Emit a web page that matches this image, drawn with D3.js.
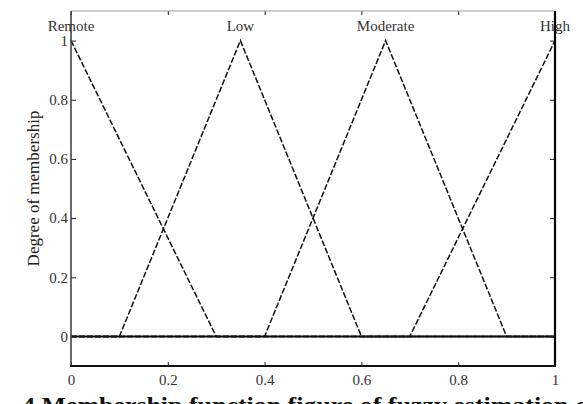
<!DOCTYPE html>
<html>
<head>
<meta charset="utf-8">
<script src="https://cdn.jsdelivr.net/npm/d3@7"></script>
<style>
  body { margin: 0; background: #fff; }
  svg { display: block; font-family: "Liberation Serif", "DejaVu Serif", serif; }
</style>
</head>
<body>
<div id="chart"></div>
<script>
// Data
const xTicks = [0, 0.2, 0.4, 0.6, 0.8, 1];
const yTicks = [0, 0.2, 0.4, 0.6, 0.8, 1];
const setNames = ["Remote", "Low", "Moderate", "High"];
const setPeaks = [0, 0.35, 0.65, 1];
const remoteX = [0, 0.3, 1];
const remoteY = [1, 0, 0];
const lowX = [0, 0.1, 0.35, 0.6, 1];
const lowY = [0, 0, 1, 0, 0];
const moderateX = [0, 0.4, 0.65, 0.9, 1];
const moderateY = [0, 0, 1, 0, 0];
const highX = [0, 0.7, 1];
const highY = [0, 0, 1];
const yLabel = "Degree of membership";
const caption = "4 Membership function figure of fuzzy estimation coefficient";

const series = [
    remoteX.map((x, i) => [x, remoteY[i]]),
    lowX.map((x, i) => [x, lowY[i]]),
    moderateX.map((x, i) => [x, moderateY[i]]),
    highX.map((x, i) => [x, highY[i]])
];

const w = 583, h = 404;
const margin = { top: 11, right: 28, bottom: 38, left: 71 };

const svg = d3.select("#chart").append("svg")
    .attr("width", w)
    .attr("height", h);

// Scales
const x = d3.scaleLinear()
    .domain([0, 1])
    .range([margin.left, w - margin.right]);

const y = d3.scaleLinear()
    .domain([-0.1, 1.1])
    .range([h - margin.bottom, margin.top]);

const line = d3.line()
    .x(d => x(d[0]))
    .y(d => y(d[1]));

// Membership functions (dashed)
svg.selectAll("path.mf")
    .data(series)
    .enter()
    .append("path")
    .attr("class", "mf")
    .attr("d", line)
    .attr("fill", "none")
    .attr("stroke", "#111")
    .attr("stroke-width", 1.5)
    .attr("stroke-dasharray", "6,2");

// Solid zero line
svg.append("line")
    .attr("x1", x(0)).attr("x2", x(1))
    .attr("y1", y(0)).attr("y2", y(0))
    .attr("stroke", "#111")
    .attr("stroke-width", 2);

// Axes (inward ticks, matlab style)
const styleAxis = g => {
    g.select(".domain").remove();
    g.selectAll(".tick line").attr("stroke", "#222");
    g.selectAll(".tick text")
        .attr("fill", "#333")
        .style("font-size", "15px")
        .style("font-family", "Liberation Serif, serif");
};

svg.append("g")
    .attr("transform", `translate(0,${y(-0.1)})`)
    .call(d3.axisBottom(x).tickValues(xTicks).tickFormat(d3.format("")).tickSizeInner(-4).tickSizeOuter(0).tickPadding(8))
    .call(styleAxis);

svg.append("g")
    .attr("transform", `translate(0,${y(1.1)})`)
    .call(d3.axisTop(x).tickValues(xTicks).tickFormat("").tickSizeInner(-4).tickSizeOuter(0))
    .call(styleAxis);

svg.append("g")
    .attr("transform", `translate(${x(0)},0)`)
    .call(d3.axisLeft(y).tickValues(yTicks).tickFormat(d3.format("")).tickSizeInner(-5).tickSizeOuter(0).tickPadding(3))
    .call(styleAxis);

svg.append("g")
    .attr("transform", `translate(${x(1)},0)`)
    .call(d3.axisRight(y).tickValues(yTicks).tickFormat("").tickSizeInner(-5).tickSizeOuter(0))
    .call(styleAxis);

// Frame
svg.append("line")
    .attr("x1", x(0)).attr("x2", x(1)).attr("y1", y(1.1)).attr("y2", y(1.1))
    .attr("stroke", "#999").attr("stroke-width", 1.2);
svg.append("line")
    .attr("x1", x(0)).attr("x2", x(0)).attr("y1", y(1.1)).attr("y2", y(-0.1))
    .attr("stroke", "#444").attr("stroke-width", 1.6);
svg.append("line")
    .attr("x1", x(1)).attr("x2", x(1)).attr("y1", y(1.1)).attr("y2", y(-0.1))
    .attr("stroke", "#000").attr("stroke-width", 2.2);
svg.append("line")
    .attr("x1", x(0) - 1).attr("x2", x(1) + 1).attr("y1", y(-0.1)).attr("y2", y(-0.1))
    .attr("stroke", "#111").attr("stroke-width", 2);

// Set names above peaks
svg.selectAll("text.setname")
    .data(setNames)
    .enter()
    .append("text")
    .attr("class", "setname")
    .attr("x", (d, i) => x(setPeaks[i]))
    .attr("y", 31)
    .attr("text-anchor", "middle")
    .attr("fill", "#333")
    .style("font-size", "15px")
    .text(d => d);

// Y label
svg.append("text")
    .attr("transform", `translate(39,${y(0.5)}) rotate(-90)`)
    .attr("text-anchor", "middle")
    .attr("fill", "#222")
    .style("font-size", "17px")
    .text(yLabel);

// Caption (runs past the picture edge, as in the source figure)
svg.append("text")
    .attr("transform", "translate(22,413) scale(1.08,1)")
    .attr("fill", "#111")
    .style("font-size", "24px")
    .style("font-weight", "bold")
    .text(caption);
</script>
</body>
</html>
